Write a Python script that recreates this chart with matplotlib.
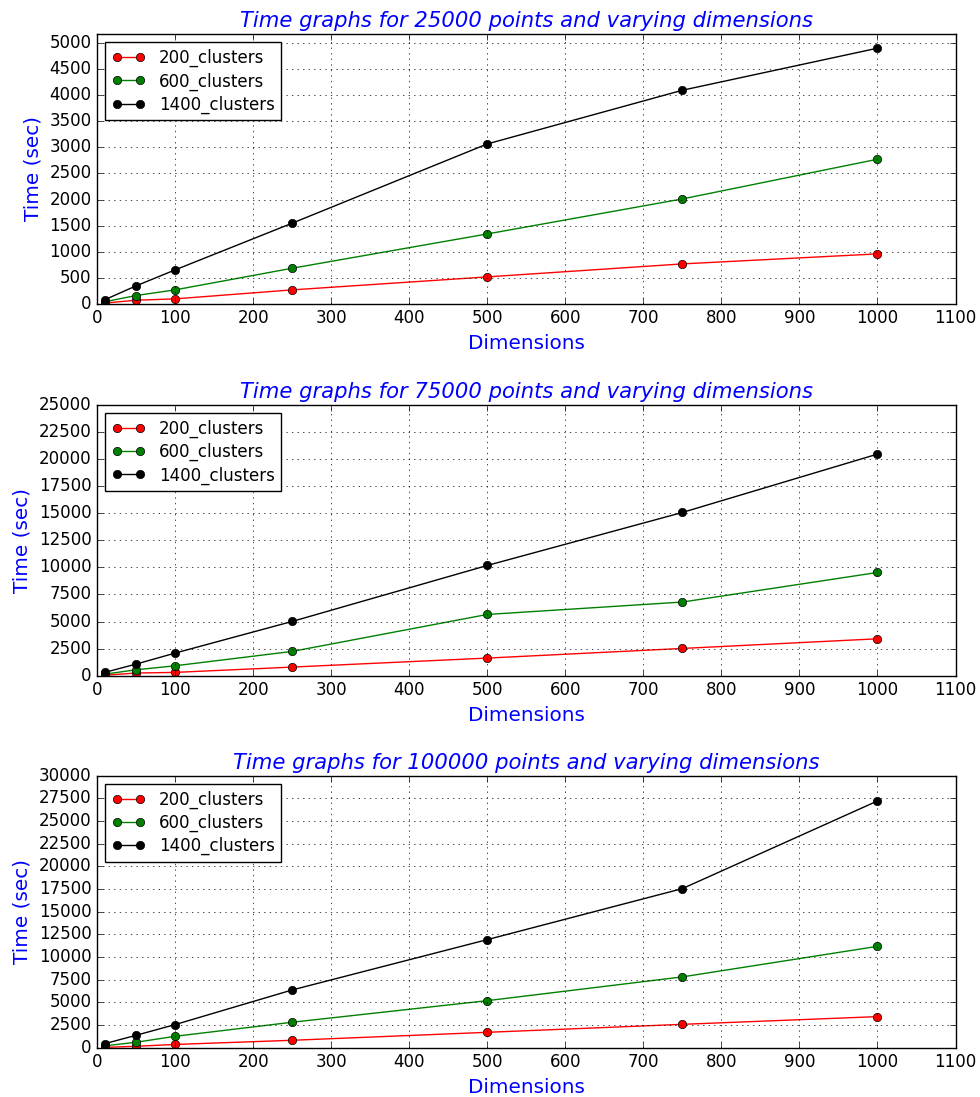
import matplotlib
matplotlib.use("Agg")
import matplotlib.pyplot as plt
import numpy as np

plt.style.use('classic')

dims = [10, 50, 100, 250, 500, 750, 1000]

# 25000 points
t25_200 = [15, 70, 96, 268, 517, 766, 958]
t25_600 = [40, 160, 268, 683, 1340, 2011, 2772]
t25_1400 = [80, 345, 651, 1546, 3065, 4094, 4900]

# 75000 points
t75_200 = [50, 250, 310, 800, 1630, 2520, 3410]
t75_600 = [150, 550, 920, 2245, 5655, 6800, 9530]
t75_1400 = [310, 1075, 2090, 5010, 10175, 15065, 20450]

# 100000 points
t100_200 = [30, 150, 350, 810, 1690, 2570, 3420]
t100_600 = [200, 590, 1250, 2800, 5180, 7800, 11170]
t100_1400 = [440, 1360, 2540, 6360, 11910, 17535, 27200]

panels = [
    ('25000', t25_200, t25_600, t25_1400, 5172, 500),
    ('75000', t75_200, t75_600, t75_1400, 25000, 2500),
    ('100000', t100_200, t100_600, t100_1400, 30000, 2500),
]

# axes boxes in figure fractions (left, bottom, width, height)
boxes = [
    (0.099, 0.723, 0.876, 0.246),
    (0.099, 0.384, 0.876, 0.247),
    (0.099, 0.045, 0.876, 0.248),
]

fig = plt.figure(figsize=(9.8, 10.97), dpi=100, facecolor='white')

for (npts, a, b, c, ymax, ystep), box in zip(panels, boxes):
    ax = fig.add_axes(box)
    ax.plot(dims, a, 'r-o', label='200_clusters')
    ax.plot(dims, b, 'g-o', label='600_clusters')
    ax.plot(dims, c, 'k-o', label='1400_clusters')
    ax.set_xlim(0, 1100)
    ax.set_ylim(0, ymax)
    ax.set_xticks(np.arange(0, 1101, 100))
    ax.set_yticks(np.arange(0, ymax + 1, ystep))
    ax.grid(True)
    ax.set_title('Time graphs for ' + npts + ' points and varying dimensions',
                 color='b', style='italic', fontsize=15.2)
    ax.set_xlabel('Dimensions', color='b', fontsize=14.4)
    ax.set_ylabel('Time (sec)', color='b', fontsize=14.4)
    ax.legend(loc='upper left', fontsize=12, labelspacing=0.3,
              handlelength=2.0, borderaxespad=0.5)

fig.savefig('out.png', dpi=100, facecolor='white')
